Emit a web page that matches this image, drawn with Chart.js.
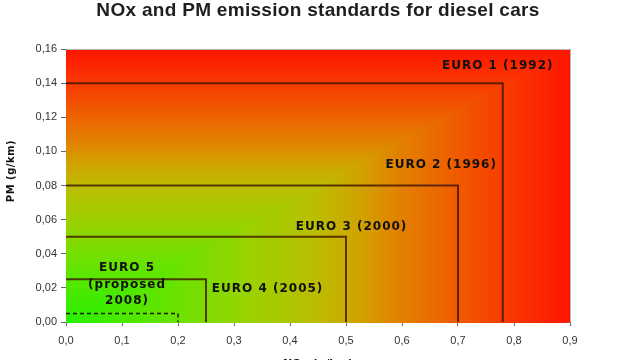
<!DOCTYPE html>
<html>
<head>
<meta charset="utf-8">
<script src="https://cdn.jsdelivr.net/npm/chart.js@4/dist/chart.umd.min.js"></script>
<style>
  html, body { margin: 0; padding: 0; background: #fff; overflow: hidden; }
  #wrap { position: relative; width: 640px; height: 373px; }
</style>
</head>
<body>
<div id="wrap"><canvas id="chart"></canvas></div>
<script>
// limit boxes (NOx in g/km on x, PM in g/km on y)
var standards = ['EURO 1 (1992)', 'EURO 2 (1996)', 'EURO 3 (2000)', 'EURO 4 (2005)'];
var noxLimits = [0.78, 0.70, 0.50, 0.25];
var pmLimits = [0.14, 0.08, 0.05, 0.025];

// proposed euro 5 (dashed)
var euro5Nox = 0.20;
var euro5Pm = 0.005;
var euro5Label = ['EURO 5', '(proposed', '2008)'];

// where the labels sit, in data units
var labelX = [0.771, 0.67, 0.51, 0.36];
var labelY = [0.150, 0.092, 0.056, 0.0193];
var euro5LabelX = 0.109;
var euro5LabelY = [0.0317, 0.0220, 0.0125];

var xTicks = [0, 0.1, 0.2, 0.3, 0.4, 0.5, 0.6, 0.7, 0.8, 0.9];
var yTicks = [0, 0.02, 0.04, 0.06, 0.08, 0.10, 0.12, 0.14, 0.16];

var tieuDe = 'NOx and PM emission standards for diesel cars';

// from-corner gradient colours, bottom-left -> outer edge
var gradStops = [
	[0.00, [40, 240, 0]],
	[0.20, [100, 228, 0]],
	[0.35, [150, 212, 0]],
	[0.50, [188, 188, 0]],
	[0.58, [208, 164, 0]],
	[0.66, [226, 130, 0]],
	[0.78, [240, 90, 0]],
	[0.90, [250, 50, 0]],
	[1.00, [255, 22, 0]]
];

function mau(t) {
	for (var i = 1; i < gradStops.length; i++) {
		if (t <= gradStops[i][0]) {
			var a = gradStops[i - 1], b = gradStops[i];
			var k = (t - a[0]) / (b[0] - a[0]);
			var c = a[1].map((v, j) => Math.round(v + (b[1][j] - v) * k));
			return 'rgb(' + c.join(',') + ')';
		}
	}
	return 'rgb(255,22,0)';
}

var datasets = [];
standards.forEach((name, i) => {
	datasets.push({
		label: name,
		data: [{x: 0, y: pmLimits[i]}, {x: noxLimits[i], y: pmLimits[i]}, {x: noxLimits[i], y: 0}],
		showLine: true,
		borderColor: 'rgba(60,20,0,0.8)',
		borderWidth: 2,
		pointRadius: 0
	});
});
datasets.push({
	label: 'EURO 5',
	data: [{x: 0, y: euro5Pm}, {x: euro5Nox, y: euro5Pm}, {x: euro5Nox, y: 0}],
	showLine: true,
	borderColor: '#1a1a00',
	borderWidth: 1.5,
	borderDash: [4, 3],
	pointRadius: 0
});

var nenGradient = {
	id: 'nenGradient',
	beforeDatasetsDraw(chart) {
		var ctx = chart.ctx, a = chart.chartArea;
		var w = a.right - a.left, h = a.bottom - a.top;
		ctx.save();
		var steps = 220;
		for (var s = steps; s >= 1; s--) {
			var t = s / steps;
			ctx.fillStyle = mau(t);
			ctx.fillRect(a.left, a.bottom - h * t, w * t + 0.5, h * t + 0.5);
		}
		ctx.strokeStyle = '#b4b4b4';
		ctx.lineWidth = 1;
		ctx.beginPath();
		ctx.moveTo(a.left, a.top + 0.5);
		ctx.lineTo(a.right + 0.5, a.top + 0.5);
		ctx.lineTo(a.right + 0.5, a.bottom);
		ctx.stroke();
		ctx.restore();
	},
	afterDatasetsDraw(chart) {
		var ctx = chart.ctx, a = chart.chartArea;
		var sx = chart.scales.x, sy = chart.scales.y;
		ctx.save();
		ctx.textAlign = 'center';
		ctx.textBaseline = 'middle';
		// title, centred over the plot
		ctx.fillStyle = '#1e1e1e';
		ctx.font = 'bold 19px "Liberation Sans", Arial';
		ctx.letterSpacing = '0.3px';
		ctx.fillText(tieuDe, (a.left + a.right) / 2, 11);

		ctx.fillStyle = '#111';
		ctx.font = 'bold 12px "DejaVu Sans"';
		ctx.letterSpacing = '1px';
		standards.forEach((name, i) => {
			ctx.fillText(name, sx.getPixelForValue(labelX[i]), sy.getPixelForValue(labelY[i]));
		});
		euro5Label.forEach((line, i) => {
			ctx.fillText(line, sx.getPixelForValue(euro5LabelX), sy.getPixelForValue(euro5LabelY[i]));
		});
		// y axis title
		ctx.letterSpacing = '0.5px';
		ctx.font = 'bold 10px "DejaVu Sans"';
		ctx.translate(11, 171);
		ctx.rotate(-Math.PI / 2);
		ctx.fillText('PM (g/km)', 0, 0);
		ctx.restore();
	}
};

var tickFont = {family: '"Liberation Sans", Arial', size: 11};

new Chart(document.getElementById('chart'), {
	type: 'scatter',
	data: {datasets: datasets},
	options: {
		responsive: true,
		maintainAspectRatio: false,
		animation: false,
		layout: {padding: {left: 0, right: 70, top: 49, bottom: 0}},
		plugins: {
			legend: {display: false},
			tooltip: {enabled: false},
			title: {display: false}
		},
		scales: {
			x: {
				type: 'linear',
				min: 0,
				max: 0.9,
				afterBuildTicks: (s) => { s.ticks = xTicks.map(v => ({value: v})); },
				afterFit: (s) => { s.height = 51; },
				ticks: {
					color: '#333',
					font: tickFont,
					padding: 8,
					maxRotation: 0,
					callback: (v) => v.toFixed(1).replace('.', ',')
				},
				grid: {display: true, drawOnChartArea: false, drawTicks: true, tickLength: 4, color: '#666'},
				border: {display: true, color: '#888'},
				title: {
					display: true,
					text: 'NOx (g/km)',
					color: '#111',
					font: {family: '"DejaVu Sans"', size: 11, weight: 'bold', lineHeight: 1.2},
					padding: {top: 0, bottom: 2}
				}
			},
			y: {
				min: 0,
				max: 0.16,
				afterBuildTicks: (s) => { s.ticks = yTicks.map(v => ({value: v})); },
				afterFit: (s) => { s.width = 66; },
				ticks: {
					color: '#333',
					font: tickFont,
					padding: 4,
					callback: (v) => v.toFixed(2).replace('.', ',')
				},
				grid: {display: true, drawOnChartArea: false, drawTicks: true, tickLength: 5, color: '#666'},
				border: {display: true, color: '#888'}
			}
		}
	},
	plugins: [nenGradient]
});
</script>
</body>
</html>
